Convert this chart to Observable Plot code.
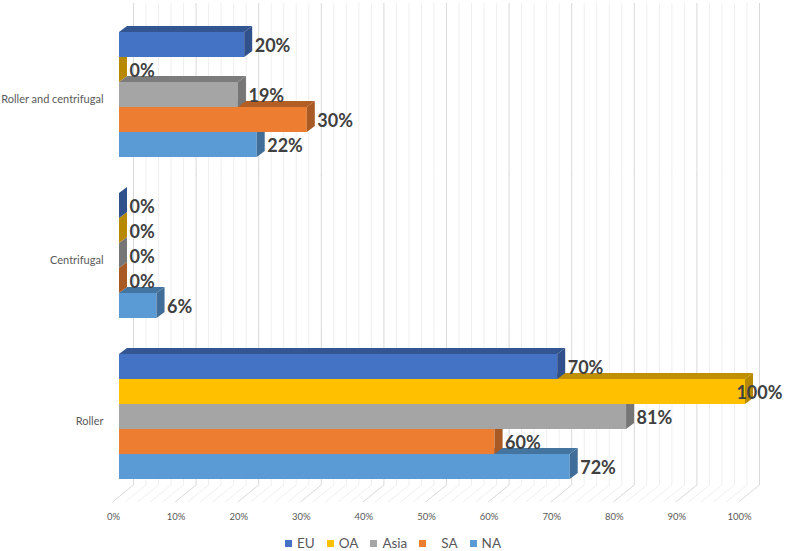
<!DOCTYPE html>
<html>
<head>
<meta charset="utf-8">
<script src="https://cdn.jsdelivr.net/npm/d3@7"></script>
<script src="https://cdn.jsdelivr.net/npm/@observablehq/plot@0.6"></script>
<style>
  html, body { margin: 0; padding: 0; background: #ffffff; }
  body { width: 786px; height: 551px; font-family: Lato, "Open Sans", sans-serif; }
  #chart svg { display: block; }
  #legend { display: flex; justify-content: center; align-items: center; height: 14px; padding-top: 6px; font-size: 13.5px; color: #595959; line-height: 14px; }
  .item { display: flex; align-items: center; margin: 0 6px; }
  .sw { width: 7px; height: 7px; margin-right: 5px; }
</style>
</head>
<body>
<div id="chart"></div>
<div id="legend"></div>
<script>
// ---- data ----
const categories = ["Roller and centrifugal", "Centrifugal", "Roller"];
const series = ["EU", "OA", "Asia", "SA", "NA"];
const seriesColors = ["#4472C4", "#FFC000", "#A5A5A5", "#ED7D31", "#5B9BD5"];
const valuesEU   = [0.20, 0.00, 0.70];
const valuesOA   = [0.00, 0.00, 1.00];
const valuesAsia = [0.19, 0.00, 0.81];
const valuesSA   = [0.30, 0.00, 0.60];
const valuesNA   = [0.22, 0.06, 0.72];
const xTickValues = [0, 0.1, 0.2, 0.3, 0.4, 0.5, 0.6, 0.7, 0.8, 0.9, 1.0];

const seriesValues = {EU: valuesEU, OA: valuesOA, Asia: valuesAsia, SA: valuesSA, NA: valuesNA};

// rows: bottom bar of each group first so upper bars overlap 3D faces correctly
const data = [];
categories.forEach((c, ci) => {
  [...series].reverse().forEach(s => data.push({category: c, series: s, value: seriesValues[s][ci]}));
});

const majorTicks = xTickValues;
const minorTicks = d3.range(0, 1.0001, 0.02).filter(v => Math.abs(v * 10 - Math.round(v * 10)) > 1e-6);

const W = 786, H = 530;
const frameTop = 31, frameBottom = 479;

// vertical extension of back-wall grid beyond each facet band
const ext = {
  "Roller and centrifugal": [-29, -18.5],
  "Centrifugal": [-18.5, -18.5],
  "Roller": [-18.5, -6]
};

function wall(ticks, stroke) {
  return categories.map(c => Plot.ruleX(ticks, {
    x: d => d, fy: ticks.map(() => c), dx: 14, stroke, strokeWidth: 1,
    insetTop: ext[c][0], insetBottom: ext[c][1]
  }));
}

function floorRender(index, scales, values, dims, ctx, next) {
  const g = next(index, scales, values, dims, ctx);
  for (const l of g.querySelectorAll("line")) {
    const x = +l.getAttribute("x1");
    const yb = +l.getAttribute("y2");
    l.setAttribute("x1", x + 14); l.setAttribute("y1", yb + 6);
    l.setAttribute("x2", x - 7);  l.setAttribute("y2", yb + 23);
  }
  return g;
}

function floor(ticks, stroke) {
  return Plot.ruleX(ticks, {x: d => d, fy: ticks.map(() => "Roller"), stroke, render: floorRender});
}

function bar3d(index, scales, values, dims, ctx, next) {
  const g = next(index, scales, values, dims, ctx);
  const DX = 8, DY = -6;
  const ns = "http://www.w3.org/2000/svg";
  for (const r of Array.from(g.querySelectorAll("rect"))) {
    const x = +r.getAttribute("x"), y = +r.getAttribute("y");
    const w = +r.getAttribute("width"), h = +r.getAttribute("height");
    const c = d3.color(r.getAttribute("fill"));
    const top = ctx.document.createElementNS(ns, "path");
    top.setAttribute("d", `M${x},${y}L${x + DX},${y + DY}H${x + w + DX}L${x + w},${y}Z`);
    top.setAttribute("fill", c.darker(0.8).formatHex());
    const side = ctx.document.createElementNS(ns, "path");
    side.setAttribute("d", `M${x + w},${y}L${x + w + DX},${y + DY}V${y + h + DY}L${x + w},${y + h}Z`);
    side.setAttribute("fill", c.darker(0.95).formatHex());
    r.after(top, side);
  }
  return g;
}

const pct = d3.format(".0%");

const plot = Plot.plot({
  width: W, height: H,
  marginLeft: 119, marginRight: 41, marginTop: frameTop, marginBottom: H - frameBottom,
  style: {background: "#ffffff", fontFamily: "Lato, 'Open Sans', sans-serif", overflow: "visible"},
  x: {domain: [0, 1], axis: null},
  y: {domain: series, paddingInner: 0, paddingOuter: 0, axis: null},
  fy: {domain: categories, paddingInner: 0.226, paddingOuter: 0, axis: null},
  color: {domain: series, range: seriesColors},
  marks: [
    ...wall(minorTicks, "#EFEFEF"),
    ...wall(majorTicks, "#D9D9D9"),
    floor(minorTicks, "#EFEFEF"),
    floor(majorTicks, "#D9D9D9"),
    Plot.axisFy({anchor: "left", tickSize: 0, tickPadding: 16, label: null, fontSize: 11, color: "#595959", dy: 4}),
    Plot.axisX({anchor: "bottom", ticks: xTickValues, tickFormat: pct, tickSize: 0, tickPadding: 34, label: null, fontSize: 9.5, color: "#595959", dx: -6}),
    Plot.barX(data, {x: "value", y: "series", fy: "category", fill: "series", render: bar3d}),
    Plot.text(data, {filter: d => d.value < 0.95, x: "value", y: "series", fy: "category", text: d => pct(d.value),
      dx: 10, dy: 1, textAnchor: "start", fontSize: 18, fontWeight: "bold", fill: "#404040"}),
    Plot.text(data, {filter: d => d.value >= 0.95, x: "value", y: "series", fy: "category", text: d => pct(d.value),
      dx: 37, dy: 1, textAnchor: "end", fontSize: 18, fontWeight: "bold", fill: "#404040"})
  ]
});
document.getElementById("chart").appendChild(plot);

// legend
const colorScale = plot.scale("color");
const legend = document.getElementById("legend");
series.forEach(s => {
  const item = document.createElement("div");
  item.className = "item";
  const sw = document.createElement("div");
  sw.className = "sw";
  sw.style.background = colorScale.apply(s);
  const label = document.createElement("span");
  label.textContent = s;
  if (s === "SA") label.style.marginLeft = "10px";
  item.appendChild(sw); item.appendChild(label);
  legend.appendChild(item);
});
</script>
</body>
</html>
